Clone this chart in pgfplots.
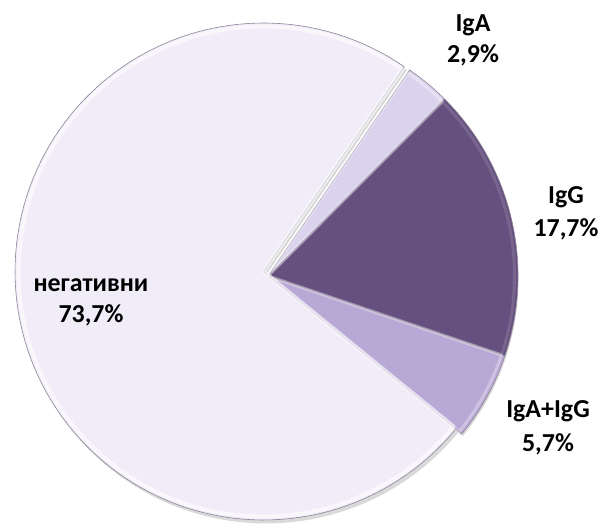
\documentclass[border=0pt]{standalone}
\usepackage{pgfplots}
\usepackage{pgfplotstable}
\pgfplotsset{compat=1.18}
\usepackage{fontspec}
\setmainfont{Carlito}
\definecolor{cNeg}{RGB}{240,236,248}
\definecolor{cIgA}{RGB}{219,210,238}
\definecolor{cIgG}{RGB}{102,80,127}
\definecolor{cBoth}{RGB}{184,168,213}
\definecolor{cEdge}{RGB}{140,132,150}

\pgfplotstableread{
name   value
IgA    2.9
IgG    17.7
IgAIgG 5.7
neg    73.7
}\pietab

% #1 cx, #2 cy, #3 r, #4 start angle, #5 end angle, #6 style
\newcommand\pieslice[6]{%
  \addplot[#6, domain=#5:#4, samples=120, variable=\t]
    ({#1+#3*cos(\t)},{#2+#3*sin(\t)}) -- (axis cs:#1,#2) -- cycle;
}

\begin{document}
\begin{tikzpicture}
\pgfplotstablegetelem{0}{value}\of\pietab \let\vA\pgfplotsretval
\pgfplotstablegetelem{1}{value}\of\pietab \let\vB\pgfplotsretval
\pgfplotstablegetelem{2}{value}\of\pietab \let\vC\pgfplotsretval
\pgfplotstablegetelem{3}{value}\of\pietab \let\vD\pgfplotsretval
\pgfmathsetmacro\aO{55.5}
\pgfmathsetmacro\aA{\aO-3.6*\vA}
\pgfmathsetmacro\aB{\aA-3.6*\vB}
\pgfmathsetmacro\aC{\aB-3.6*\vC}
\pgfmathsetmacro\aD{\aC-3.6*\vD}
\begin{axis}[
  width=603bp, height=528bp, scale only axis,
  xmin=0, xmax=603, ymin=-528, ymax=0,
  hide axis, clip=false,
  every axis plot/.append style={line join=round},
]
% shadows
\pieslice{266}{-275}{248.5}{\aC}{\aD}{fill=black, draw=none, opacity=0.15}
\pieslice{270.5}{-279.5}{248}{\aO}{\aC}{fill=black, draw=none, opacity=0.15}
% slices
\pieslice{263.5}{-271.5}{248.5}{\aC}{\aD}{fill=cNeg, draw=cEdge, line width=0.6pt}
\pieslice{268}{-276}{250}{\aO}{\aA}{fill=cIgA, draw=cEdge, line width=0.6pt}
\pieslice{268}{-276}{250}{\aA}{\aB}{fill=cIgG, draw=cEdge, line width=0.6pt}
\pieslice{268}{-276}{250}{\aB}{\aC}{fill=cBoth, draw=cEdge, line width=0.6pt}
% bevel highlights
\pieslice{263.5}{-271.5}{245}{\aC}{\aD}{draw=white, fill=none, line width=4pt, opacity=0.6}
\pieslice{268}{-276}{246.5}{\aO}{\aA}{draw=white, fill=none, line width=3pt, opacity=0.35}
\pieslice{268}{-276}{246.5}{\aA}{\aB}{draw=white, fill=none, line width=3pt, opacity=0.12}
\pieslice{268}{-276}{246.5}{\aB}{\aC}{draw=white, fill=none, line width=3pt, opacity=0.3}
% labels
\begin{scope}[every node/.style={anchor=base, inner sep=0pt, font=\fontsize{26}{31}\selectfont\bfseries, text=black}]
\node at (axis cs:473,-32) {IgA};
\node at (axis cs:473,-63) {2,9\%};
\node at (axis cs:566,-204) {IgG};
\node at (axis cs:566,-237) {17,7\%};
\node at (axis cs:548,-418) {IgA+IgG};
\node at (axis cs:548,-452) {5,7\%};
\node at (axis cs:91,-292) {негативни};
\node at (axis cs:91,-323) {73,7\%};
\end{scope}
\end{axis}
\pgfresetboundingbox
\useasboundingbox (current axis.south west) rectangle (current axis.north east);
\end{tikzpicture}
\end{document}
